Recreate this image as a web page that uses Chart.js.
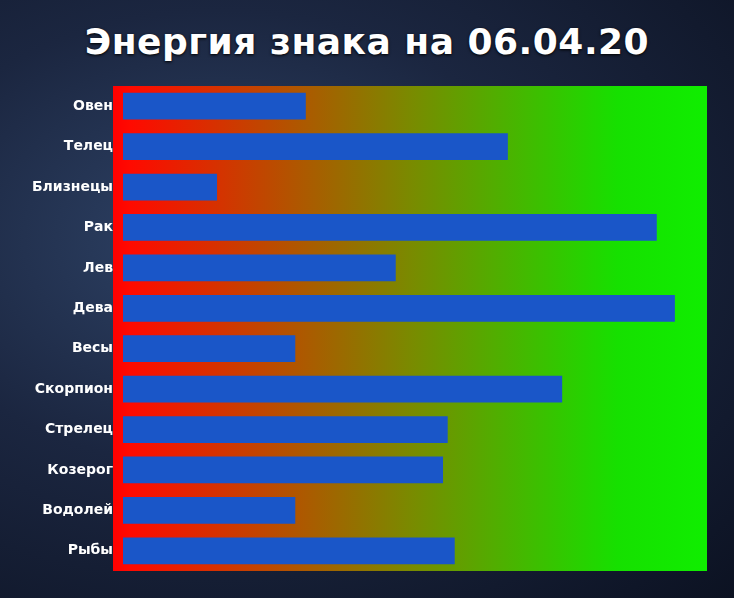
<!DOCTYPE html>
<html><head><meta charset="utf-8">
<script src="https://cdn.jsdelivr.net/npm/chart.js@4"></script>
<style>
html,body{margin:0;padding:0;width:734px;height:598px;overflow:hidden;
background:radial-gradient(ellipse at 30% 40%,#2f4468 0%,#1b2640 45%,#0c1222 100%);}
h1{position:absolute;top:0;left:0;width:734px;margin:0;text-align:center;font:900 36px "DejaVu Sans",sans-serif;letter-spacing:0.5px;color:#fff;line-height:84px;text-shadow:0 1px 3px #000;}
#w{position:absolute;left:0;top:0;width:734px;height:598px;}
</style></head><body>
<h1>Энергия знака на 06.04.20</h1>
<div id="w"><canvas id="c"></canvas></div>
<script>
const categories=["Овен","Телец","Близнецы","Рак","Лев","Дева","Весы","Скорпион","Стрелец","Козерог","Водолей","Рыбы"];
const values=[31.3,65.9,16.1,91.4,46.7,94.5,29.5,75.2,55.6,54.8,29.5,56.8];
const bg={id:'bg',beforeDatasetsDraw(ch){const a=ch.chartArea,c=ch.ctx;const l=a.left-10;
const g=c.createLinearGradient(l,0,a.right,0);g.addColorStop(0,'#ff0000');g.addColorStop(0.03,'#ff0a00');g.addColorStop(0.5,'#7a8a00');g.addColorStop(0.85,'#16e000');g.addColorStop(1,'#10ee00');
c.save();c.fillStyle=g;c.fillRect(l,a.top,a.right-l,a.bottom-a.top);c.restore();}};
new Chart(document.getElementById('c'),{type:'bar',
data:{labels:categories,datasets:[{data:values,backgroundColor:'#1a56c8',barPercentage:0.66,categoryPercentage:1}]},
options:{indexAxis:'y',responsive:true,maintainAspectRatio:false,animation:false,
layout:{padding:{top:86,bottom:27,right:27,left:0}},
plugins:{legend:{display:false},tooltip:{enabled:false}},
scales:{x:{min:0,max:100,display:false},
y:{afterFit(s){s.width=123;},grid:{display:false,drawTicks:false},border:{display:false},
ticks:{color:'#fff',padding:10,font:{family:'DejaVu Sans',weight:'bold',size:14}}}}},
plugins:[bg]});
</script></body></html>
